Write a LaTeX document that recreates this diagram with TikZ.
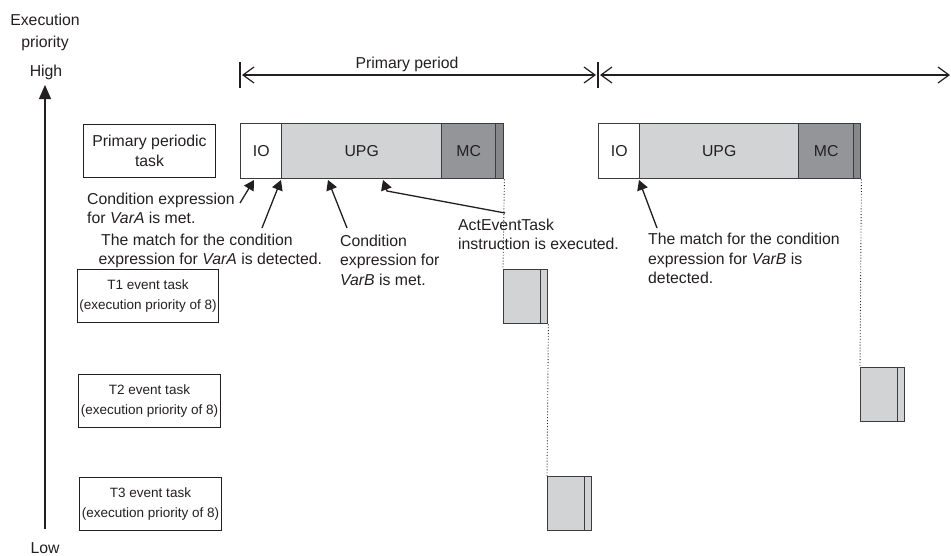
\documentclass[tikz,border=0pt]{standalone}
\usepackage{fontspec}
\setmainfont{Liberation Sans}
\usetikzlibrary{arrows.meta}
\definecolor{ink}{HTML}{231F20}
\definecolor{upg}{HTML}{D1D3D4}
\definecolor{mcg}{HTML}{939598}
\definecolor{stg}{HTML}{85878A}
\definecolor{edge}{HTML}{3C3C3E}
\newcommand\fa{\fontsize{15.8}{19.5}\selectfont}
\newcommand\fb{\fontsize{13.5}{20}\selectfont}
\begin{document}
\begin{tikzpicture}[x=1pt,y=-1pt,
  seg/.style={draw=edge, line width=1.4pt, anchor=north west, inner sep=0pt, minimum height=55pt, text=ink, font=\fa},
  evt/.style={draw=edge, line width=1.4pt, anchor=north west, inner sep=0pt, minimum height=54pt, fill=upg},
  lbl/.style={draw=ink, line width=1pt, anchor=north west, inner sep=0pt, align=center, text=ink},
  note/.style={anchor=base west, inner sep=0pt, text=ink, font=\fa},
  title/.style={anchor=base, inner sep=0pt, text=ink, font=\fa},
  pointer/.style={draw=ink, line width=1.3pt, -{Triangle[length=10pt,width=11pt]}},
  guide/.style={draw=ink, line width=0.9pt, dotted},
  span/.style={draw=ink, line width=1.2pt, {Straight Barb[length=11pt,width=16pt]}-{Straight Barb[length=11pt,width=16pt]}},
  tick/.style={draw=ink, line width=1.2pt}
]
\useasboundingbox (0,0) rectangle (951,555);

% axis
\node[title] (ex) at (45,25) {Execution};
\node[title] (pr) at (45,47) {priority};
\node[title] (hg) at (46,76.5) {High};
\node[title] (lw) at (45,553) {Low};
\coordinate (lo) at (45,529);
\coordinate (hi) at (45,85);
\draw[line width=1.4pt, ink, -{Triangle[length=14pt,width=12pt]}] (lo) -- (hi);

% period arrows
\coordinate (p0t) at (240,62); \coordinate (p0b) at (240,88);
\coordinate (p1t) at (598,62); \coordinate (p1b) at (598,88);
\draw[tick] (p0t) -- (p0b);
\draw[tick] (p1t) -- (p1b);
\coordinate (pa) at (242,75); \coordinate (pb) at (596,75);
\coordinate (pc) at (600,75); \coordinate (pd) at (950,75);
\draw[span] (pa) -- (pb);
\draw[span] (pc) -- (pd);
\node[title] (ppl) at (407,68.5) {Primary period};

% labels
\node[lbl, minimum width=132pt, minimum height=53pt, font=\fa] (pp) at (83,124) {Primary periodic\\task};
\node[lbl, minimum width=141pt, minimum height=53pt, font=\fb] (l1) at (77,269) {T1 event task\\(execution priority of 8)};
\node[lbl, minimum width=142pt, minimum height=53pt, font=\fb] (l2) at (78,374) {T2 event task\\(execution priority of 8)};
\node[lbl, minimum width=142pt, minimum height=53pt, font=\fb] (l3) at (79,477) {T3 event task\\(execution priority of 8)};

% primary task blocks
\node[seg, fill=white, minimum width=41pt] (io1) at (240,123) {IO};
\node[seg, fill=upg, minimum width=160pt] (upg1) at (281,123) {UPG};
\node[seg, fill=mcg, minimum width=54pt] (mc1) at (441,123) {MC};
\node[seg, fill=stg, minimum width=8pt] (st1) at (495,123) {};

\node[seg, fill=white, minimum width=41pt] (io2) at (598,123) {IO};
\node[seg, fill=upg, minimum width=159pt] (upg2) at (639,123) {UPG};
\node[seg, fill=mcg, minimum width=55pt] (mc2) at (798,123) {MC};
\node[seg, fill=stg, minimum width=7pt] (st2) at (853,123) {};

% event task blocks
\node[evt, minimum width=37pt] (e1) at (503,269) {};
\node[evt, minimum width=7pt] (e1s) at (540,269) {};
\node[evt, minimum width=37pt] (e2) at (860,367) {};
\node[evt, minimum width=7pt] (e2s) at (897,367) {};
\node[evt, minimum width=37pt] (e3) at (547,476) {};
\node[evt, minimum width=7pt] (e3s) at (584,476) {};

% dotted guides
\draw[guide] (st1.south east) -- (e1.north west);
\draw[guide] (e1s.south east) -- (e3.north west);
\draw[guide] (st2.south east) -- (e2.north west);

% notes
\node[note] (n1a) at (87,204) {Condition expression};
\node[note] (n1b) at (87,223) {for \textit{VarA} is met.};
\node[note] (n2a) at (101,245) {The match for the condition};
\node[note] (n2b) at (98.5,264) {expression for \textit{VarA} is detected.};
\node[note] (n3a) at (340,246) {Condition};
\node[note] (n3b) at (340,265) {expression for};
\node[note] (n3c) at (340,285) {\textit{VarB} is met.};
\node[note] (n4a) at (458,230) {ActEventTask};
\node[note] (n4b) at (458,249) {instruction is executed.};
\node[note] (n5a) at (648,244) {The match for the condition};
\node[note] (n5b) at (648,264) {expression for \textit{VarB} is};
\node[note] (n5c) at (648,283) {detected.};

% pointers
\coordinate (k1) at (240,203); \coordinate (k1t) at (254,180);
\coordinate (k2) at (262,228); \coordinate (k2t) at (281,180);
\coordinate (k3) at (347,228); \coordinate (k3t) at (328,180);
\coordinate (k4) at (505,213); \coordinate (k4m) at (387,191); \coordinate (k4t) at (383,180);
\coordinate (k5) at (657,228); \coordinate (k5t) at (639,180);
\draw[pointer] (k1) -- (k1t);
\draw[pointer] (k2) -- (k2t);
\draw[pointer] (k3) -- (k3t);
\draw[pointer] (k4) -- (k4m) -- (k4t);
\draw[pointer] (k5) -- (k5t);
\end{tikzpicture}
\end{document}
